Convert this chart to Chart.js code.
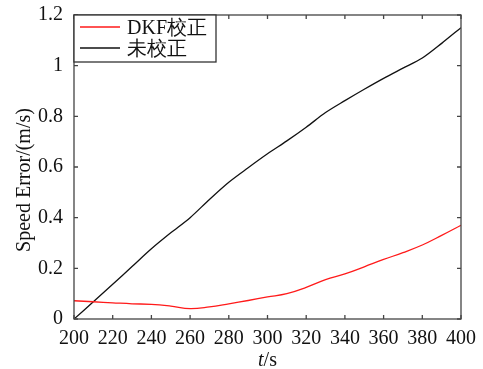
<!DOCTYPE html>
<html>
<head>
<meta charset="utf-8">
<script src="https://cdn.jsdelivr.net/npm/chart.js@4.4.0/dist/chart.umd.min.js"></script>
<style>
  html, body { margin: 0; padding: 0; background: #fff; }
  #wrap { width: 483px; height: 369px; }
</style>
</head>
<body>
<div id="wrap"><canvas id="speedChart"></canvas></div>
<script>
// time axis (s) and speed error samples (m/s)
const timeSec = [200, 210, 220, 230, 240, 250, 260, 270, 280, 290, 300,
                 310, 320, 330, 340, 350, 360, 370, 380, 390, 400];
const dkfError = [0.072, 0.068, 0.064, 0.060, 0.058, 0.051, 0.041, 0.048, 0.060, 0.073, 0.087,
                  0.100, 0.125, 0.155, 0.178, 0.206, 0.235, 0.262, 0.292, 0.330, 0.370];
const rawError = [0.000, 0.068, 0.137, 0.207, 0.277, 0.340, 0.400, 0.472, 0.540, 0.597, 0.652,
                  0.703, 0.757, 0.815, 0.862, 0.907, 0.950, 0.990, 1.030, 1.088, 1.150];
const seriesNames = ['DKF校正', '未校正'];
const xTicks = [200, 220, 240, 260, 280, 300, 320, 340, 360, 380, 400];
const yTicks = [0, 0.2, 0.4, 0.6, 0.8, 1, 1.2];

const SERIF = 'Liberation Serif, serif';
const INK = '#111';

// frame with inward ticks on all four sides, custom legend box and axis titles
const framePlugin = {
    id: 'frame',
    afterDatasetsDraw(chart) {
        const { ctx, chartArea: a, scales } = chart;
        ctx.save();
        ctx.strokeStyle = '#444';
        ctx.lineWidth = 1.3;
        ctx.strokeRect(a.left, a.top, a.right - a.left, a.bottom - a.top);
        ctx.beginPath();
        const tl = 4;
        xTicks.forEach(v => {
            const x = scales.x.getPixelForValue(v);
            ctx.moveTo(x, a.bottom); ctx.lineTo(x, a.bottom - tl);
            ctx.moveTo(x, a.top); ctx.lineTo(x, a.top + tl);
        });
        yTicks.forEach(v => {
            const y = scales.y.getPixelForValue(v);
            ctx.moveTo(a.left, y); ctx.lineTo(a.left + tl, y);
            ctx.moveTo(a.right, y); ctx.lineTo(a.right - tl, y);
        });
        ctx.stroke();

        // legend
        const bx = a.left, by = a.top, bw = 142, bh = 47;
        ctx.fillStyle = '#fff';
        ctx.fillRect(bx, by, bw, bh);
        ctx.strokeStyle = '#333';
        ctx.lineWidth = 1.3;
        ctx.strokeRect(bx, by, bw, bh);
        ctx.font = '20px ' + SERIF;
        ctx.textBaseline = 'middle';
        ctx.textAlign = 'left';
        chart.data.datasets.forEach((ds, i) => {
            const ly = by + 12 + i * 21;
            ctx.strokeStyle = ds.borderColor;
            ctx.lineWidth = 1.3;
            ctx.beginPath();
            ctx.moveTo(bx + 6, ly); ctx.lineTo(bx + 46, ly);
            ctx.stroke();
            ctx.fillStyle = INK;
            ctx.fillText(ds.label, bx + 53, ly + 2);
        });

        // axis titles
        ctx.fillStyle = INK;
        ctx.font = '20px ' + SERIF;
        ctx.save();
        ctx.translate(25, 180);
        ctx.rotate(-Math.PI / 2);
        ctx.textAlign = 'center';
        ctx.fillText('Speed Error/(m/s)', 0, 0);
        ctx.restore();

        const cx = (a.left + a.right) / 2;
        ctx.textAlign = 'left';
        ctx.font = 'italic 20px ' + SERIF;
        const tW = ctx.measureText('t').width;
        ctx.font = '20px ' + SERIF;
        const sW = ctx.measureText('/s').width;
        const x0 = cx - (tW + sW) / 2;
        ctx.font = 'italic 20px ' + SERIF;
        ctx.fillText('t', x0, 361);
        ctx.font = '20px ' + SERIF;
        ctx.fillText('/s', x0 + tW, 361);
        ctx.restore();
    }
};

new Chart(document.getElementById('speedChart').getContext('2d'), {
    type: 'line',
    data: {
        datasets: [
            {
                label: seriesNames[0],
                data: timeSec.map((t, i) => ({ x: t, y: dkfError[i] })),
                borderColor: '#ff1a1a',
                borderWidth: 1.3,
                pointRadius: 0,
                tension: 0.4,
                fill: false
            },
            {
                label: seriesNames[1],
                data: timeSec.map((t, i) => ({ x: t, y: rawError[i] })),
                borderColor: '#111',
                borderWidth: 1.3,
                pointRadius: 0,
                tension: 0.3,
                fill: false
            }
        ]
    },
    options: {
        responsive: true,
        maintainAspectRatio: false,
        animation: false,
        layout: { padding: { top: 15, right: 22, left: 0, bottom: 0 } },
        plugins: { legend: { display: false }, tooltip: { enabled: false } },
        scales: {
            x: {
                type: 'linear',
                min: 200, max: 400,
                afterBuildTicks: s => { s.ticks = xTicks.map(v => ({ value: v })); },
                afterFit: s => { s.height = 50; },
                grid: { display: false },
                border: { display: false },
                ticks: { color: INK, font: { family: SERIF, size: 20 }, padding: 0, maxRotation: 0 }
            },
            y: {
                min: 0, max: 1.2,
                afterBuildTicks: s => { s.ticks = yTicks.map(v => ({ value: v })); },
                afterFit: s => { s.width = 74; },
                grid: { display: false },
                border: { display: false },
                ticks: { color: INK, font: { family: SERIF, size: 20 }, padding: 3,
                         callback: v => String(Math.round(v * 10) / 10) }
            }
        }
    },
    plugins: [framePlugin]
});
</script>
</body>
</html>
